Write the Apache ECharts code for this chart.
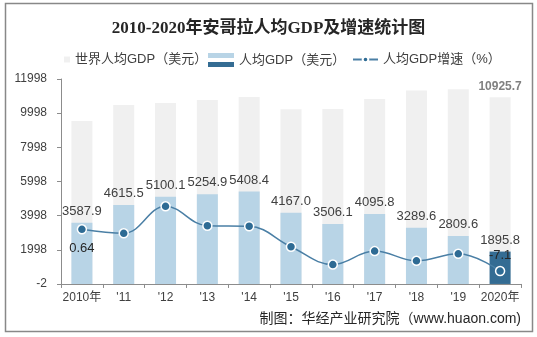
<!DOCTYPE html>
<html>
<head>
<meta charset="utf-8">
<script src="https://cdn.jsdelivr.net/npm/echarts@6/dist/echarts.min.js"></script>
<style>html,body{margin:0;padding:0;background:#fff;}#c{width:537px;height:337px;}</style>
</head>
<body>
<div id="c"></div>
<script>
const years = ['2010年', "'11", "'12", "'13", "'14", "'15", "'16", "'17", "'18", "'19", '2020年'];
const worldGdp = [9540, 10480, 10600, 10770, 10940, 10230, 10240, 10820, 11330, 11400, 10925.7];
const gdp = [3587.9, 4615.5, 5100.1, 5254.9, 5408.4, 4167.0, 3506.1, 4095.8, 3289.6, 2809.6, 1895.8];
const growth = [0.64, -0.1, 4.9, 1.3, 1.2, -2.6, -5.9, -3.4, -5.2, -3.9, -7.1];
const yMin = -2, yMax = 11998, yStep = 2000;
const rateMin = -9.5, rateMax = 28.5;

const names = ['世界人均GDP（美元）', '人均GDP（美元）', '人均GDP增速（%）'];
const lightBlue = '#b8d4e6', darkBlue = '#346c93', worldGrey = '#f0f0f0';
const last = years.length - 1;
const font = "'Liberation Sans', Arial, 'Noto Sans CJK SC', sans-serif";

const chart = echarts.init(document.getElementById('c'), null, {renderer: 'canvas'});
chart.setOption({
  animation: false,
  textStyle: {fontFamily: font},
  title: {
    text: '2010-2020年安哥拉人均GDP及增速统计图',
    left: 'center', top: 15,
    textStyle: {fontSize: 17, fontWeight: 'bold', color: '#262626', fontFamily: "'Liberation Serif', 'Noto Sans CJK SC', serif"}
  },
  legend: [
    {data: [names[0]], left: 59, top: 48, icon: 'rect', itemWidth: 6, itemHeight: 6,
     textStyle: {fontSize: 13, color: '#404040'}},
    {data: [{name: names[1], itemStyle: {color: new echarts.graphic.LinearGradient(0, 0, 0, 1, [
        {offset: 0, color: lightBlue}, {offset: 0.36, color: lightBlue},
        {offset: 0.36, color: '#ffffff'}, {offset: 0.62, color: '#ffffff'},
        {offset: 0.62, color: darkBlue}, {offset: 1, color: darkBlue}])}}],
     left: 203, top: 48, icon: 'rect', itemWidth: 26, itemHeight: 14,
     textStyle: {fontSize: 13, color: '#404040'}},
    {data: [names[2]], left: 347, top: 48, itemWidth: 25, itemHeight: 7,
     textStyle: {fontSize: 13, color: '#404040'}}
  ],
  grid: {left: 61, right: 16, top: 79, bottom: 53},
  xAxis: {
    type: 'category', data: years,
    axisLine: {lineStyle: {color: '#8c8c8c', width: 1}},
    axisTick: {show: true, length: 4, lineStyle: {color: '#8c8c8c'}},
    axisLabel: {fontSize: 12, color: '#404040', margin: 8, interval: 0}
  },
  yAxis: [
    {type: 'value', min: yMin, max: yMax, interval: yStep,
     axisLine: {show: true, lineStyle: {color: '#8c8c8c', width: 1}},
     axisTick: {show: true, length: 4, lineStyle: {color: '#8c8c8c'}},
     axisLabel: {fontSize: 12, color: '#404040', margin: 14, formatter: v => String(Math.round(v))},
     splitLine: {show: false}},
    {type: 'value', min: rateMin, max: rateMax, show: false, splitLine: {show: false}}
  ],
  series: [
    {name: names[0], type: 'bar', barWidth: 21, z: 1,
     itemStyle: {color: worldGrey},
     data: worldGdp.map((v, i) => i === last ? {value: v, label: {show: true}} : v),
     label: {show: false, position: 'top', distance: 5, fontSize: 12, fontWeight: 'bold', color: '#808080',
             formatter: p => p.value.toFixed(1)}},
    {name: names[1], type: 'bar', barWidth: 21, barGap: '-100%', z: 2,
     itemStyle: {color: lightBlue},
     data: gdp.map((v, i) => i === last ? {value: v, itemStyle: {color: darkBlue}} : v),
     label: {show: true, position: 'top', distance: 5, fontSize: 13, color: '#404040',
             formatter: p => p.value.toFixed(1)}},
    {name: names[2], type: 'line', yAxisIndex: 1, smooth: 0.4, z: 5,
     symbol: 'circle', symbolSize: 9,
     lineStyle: {color: '#4a7fa5', width: 1.5},
     itemStyle: {color: '#2e6b94', borderColor: '#ffffff', borderWidth: 1.5},
     data: growth.map((v, i) => {
       if (i === 0) return {value: v, label: {show: true, position: 'bottom', distance: 7}};
       if (i === last) return {value: v, label: {show: true, position: 'top', distance: 4}};
       return v;
     }),
     label: {show: false, fontSize: 13, color: '#262626'}}
  ],
  graphic: [
    {type: 'rect', shape: {x: 5.5, y: 3.5, width: 527, height: 328},
     style: {fill: 'none', stroke: '#888888', lineWidth: 1.5}, silent: true, z: 100},
    {type: 'text', right: 16, top: 312,
     style: {text: '制图：华经产业研究院（www.huaon.com)', fontSize: 14, fill: '#262626', fontFamily: font}}
  ]
});
</script>
</body>
</html>
